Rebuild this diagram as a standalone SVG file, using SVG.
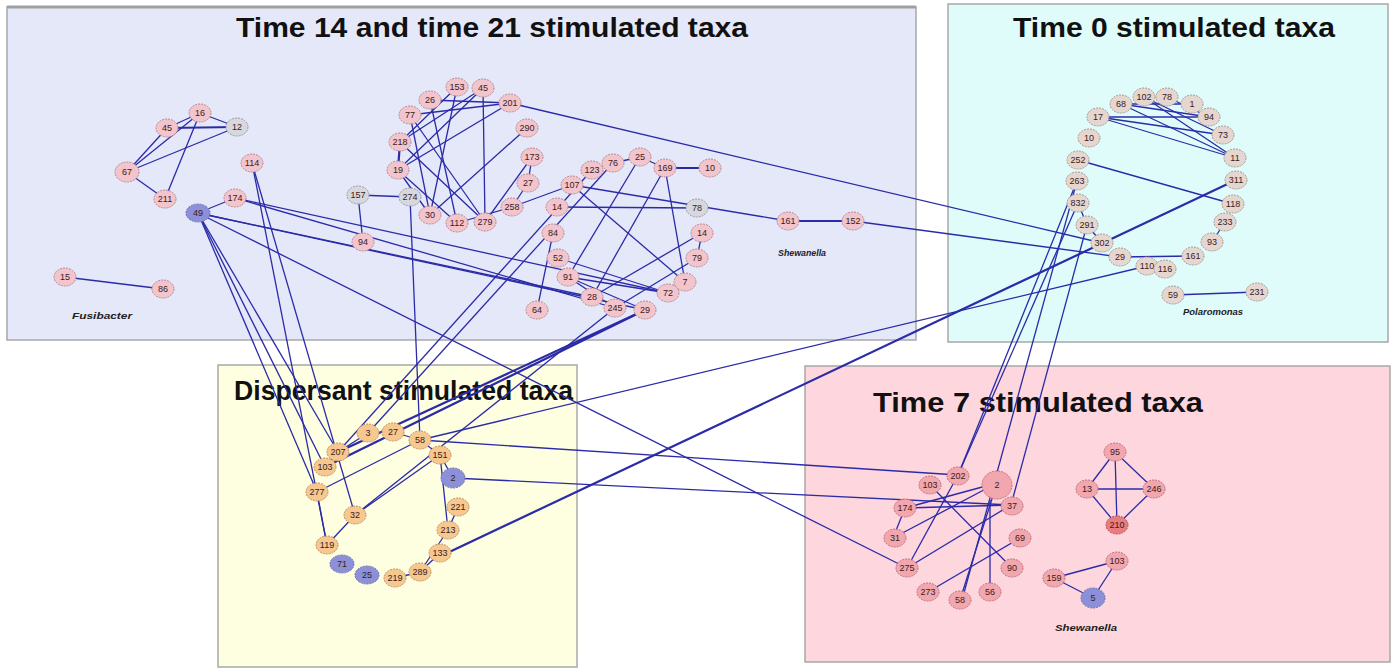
<svg xmlns="http://www.w3.org/2000/svg" width="1392" height="670" viewBox="0 0 1392 670">
<defs>
<style>
.panel{stroke:#a8a8a8;stroke-width:1.5}
.title{font-family:"Liberation Sans",Arial,sans-serif;font-weight:bold;font-size:28px;fill:#111}
.gen{font-family:"Liberation Sans",Arial,sans-serif;font-weight:bold;font-style:italic;font-size:9px;fill:#222}
#edges line{stroke:#2b2ba8;stroke-width:1.3;fill:none}
#edges .thick{stroke-width:2.2}
.n ellipse{stroke-width:1;stroke-dasharray:2 1}
.n text{font-family:"Liberation Sans",Arial,sans-serif;font-size:9px;fill:#3a2020;text-anchor:middle}
.pa ellipse{fill:#f2c4cc;stroke:#b88890}
.bl ellipse{fill:#8c90d8;stroke:#6a6eb8}
.gr ellipse{fill:#d6d8de;stroke:#9a9aa4}
.pz ellipse{fill:#e6d6d0;stroke:#a89890}
.pd ellipse{fill:#f6c890;stroke:#c09060}
.ps ellipse{fill:#f2a6ae;stroke:#c07078}
.rd ellipse{fill:#e87c80;stroke:#b05058}
</style>
</defs>
<rect width="1392" height="670" fill="#ffffff"/>
<g id="panels">
<rect class="panel" x="7" y="7" width="909" height="333" fill="#e5e8f9"/>
<line x1="7" y1="7" x2="916" y2="7" stroke="#a0a0a0" stroke-width="3"/>
<rect class="panel" x="948" y="4" width="440" height="338" fill="#dffcfb"/>
<rect class="panel" x="218" y="365" width="359" height="302" fill="#fefee0"/>
<rect class="panel" x="805" y="366" width="585" height="296" fill="#fdd6de"/>
</g>
<g id="titles">
<text class="title" x="236" y="37" textLength="512" lengthAdjust="spacingAndGlyphs">Time 14 and time 21 stimulated taxa</text>
<text class="title" x="1013" y="37" textLength="322" lengthAdjust="spacingAndGlyphs">Time 0 stimulated taxa</text>
<text class="title" x="234" y="400" textLength="339" lengthAdjust="spacingAndGlyphs">Dispersant stimulated taxa</text>
<text class="title" x="873" y="412" textLength="330" lengthAdjust="spacingAndGlyphs">Time 7 stimulated taxa</text>
<text class="gen" x="72" y="319" textLength="60" lengthAdjust="spacingAndGlyphs">Fusibacter</text>
<text class="gen" x="778" y="256" textLength="48" lengthAdjust="spacingAndGlyphs">Shewanella</text>
<text class="gen" x="1183" y="315" textLength="60" lengthAdjust="spacingAndGlyphs">Polaromonas</text>
<text class="gen" x="1055" y="631" textLength="62" lengthAdjust="spacingAndGlyphs">Shewanella</text>
</g>
<g id="edges">
<line x1="167" y1="128" x2="200" y2="113"/>
<line x1="167" y1="128" x2="237" y2="127" class="thick"/>
<line x1="200" y1="113" x2="237" y2="127"/>
<line x1="127" y1="172" x2="167" y2="128"/>
<line x1="127" y1="172" x2="200" y2="113"/>
<line x1="127" y1="172" x2="237" y2="127"/>
<line x1="127" y1="172" x2="165" y2="199"/>
<line x1="200" y1="113" x2="165" y2="199"/>
<line x1="235" y1="198" x2="198" y2="213"/>
<line x1="65" y1="277" x2="163" y2="289"/>
<line x1="235" y1="198" x2="615" y2="308"/>
<line x1="235" y1="198" x2="668" y2="293"/>
<line x1="198" y1="213" x2="592" y2="297"/>
<line x1="198" y1="213" x2="645" y2="310"/>
<line x1="198" y1="213" x2="907" y2="568"/>
<line x1="198" y1="213" x2="325" y2="467"/>
<line x1="198" y1="213" x2="317" y2="492"/>
<line x1="198" y1="213" x2="338" y2="452"/>
<line x1="252" y1="163" x2="355" y2="515"/>
<line x1="252" y1="163" x2="327" y2="545"/>
<line x1="358" y1="195" x2="410" y2="197"/>
<line x1="358" y1="195" x2="363" y2="242"/>
<line x1="410" y1="197" x2="420" y2="440"/>
<line x1="430" y1="100" x2="510" y2="103"/>
<line x1="410" y1="115" x2="510" y2="103"/>
<line x1="457" y1="87" x2="400" y2="142"/>
<line x1="483" y1="88" x2="400" y2="142"/>
<line x1="483" y1="88" x2="398" y2="170"/>
<line x1="510" y1="103" x2="398" y2="170"/>
<line x1="527" y1="128" x2="430" y2="215"/>
<line x1="430" y1="100" x2="457" y2="223"/>
<line x1="410" y1="115" x2="485" y2="222"/>
<line x1="400" y1="142" x2="485" y2="222"/>
<line x1="398" y1="170" x2="457" y2="223"/>
<line x1="398" y1="170" x2="430" y2="215"/>
<line x1="483" y1="88" x2="485" y2="222"/>
<line x1="457" y1="87" x2="430" y2="215"/>
<line x1="400" y1="142" x2="398" y2="170" class="thick"/>
<line x1="410" y1="115" x2="430" y2="215"/>
<line x1="532" y1="157" x2="485" y2="222"/>
<line x1="528" y1="183" x2="512" y2="207"/>
<line x1="532" y1="157" x2="528" y2="183"/>
<line x1="512" y1="207" x2="457" y2="223"/>
<line x1="510" y1="103" x2="1102" y2="243"/>
<line x1="665" y1="168" x2="710" y2="168" class="thick"/>
<line x1="640" y1="157" x2="665" y2="168"/>
<line x1="613" y1="163" x2="640" y2="157"/>
<line x1="665" y1="168" x2="685" y2="282"/>
<line x1="665" y1="168" x2="592" y2="297"/>
<line x1="640" y1="157" x2="568" y2="277"/>
<line x1="572" y1="185" x2="685" y2="282"/>
<line x1="572" y1="185" x2="512" y2="207"/>
<line x1="557" y1="207" x2="697" y2="208"/>
<line x1="553" y1="233" x2="537" y2="310"/>
<line x1="558" y1="258" x2="668" y2="293"/>
<line x1="568" y1="277" x2="615" y2="308"/>
<line x1="568" y1="277" x2="645" y2="310"/>
<line x1="568" y1="277" x2="668" y2="293"/>
<line x1="702" y1="233" x2="592" y2="297"/>
<line x1="697" y1="258" x2="615" y2="308"/>
<line x1="702" y1="233" x2="697" y2="258"/>
<line x1="592" y1="170" x2="338" y2="452"/>
<line x1="613" y1="163" x2="368" y2="433"/>
<line x1="645" y1="310" x2="338" y2="452" class="thick"/>
<line x1="645" y1="310" x2="325" y2="467" class="thick"/>
<line x1="615" y1="308" x2="355" y2="515"/>
<line x1="572" y1="185" x2="788" y2="221"/>
<line x1="788" y1="221" x2="853" y2="221" class="thick"/>
<line x1="853" y1="221" x2="1120" y2="257"/>
<line x1="1098" y1="117" x2="1235" y2="158"/>
<line x1="1098" y1="117" x2="1223" y2="135"/>
<line x1="1098" y1="117" x2="1209" y2="117"/>
<line x1="1121" y1="104" x2="1235" y2="158"/>
<line x1="1121" y1="104" x2="1209" y2="117"/>
<line x1="1144" y1="97" x2="1223" y2="135"/>
<line x1="1144" y1="97" x2="1235" y2="158"/>
<line x1="1167" y1="97" x2="1209" y2="117"/>
<line x1="1121" y1="104" x2="1192" y2="104"/>
<line x1="1078" y1="160" x2="1233" y2="204"/>
<line x1="1078" y1="203" x2="1087" y2="225"/>
<line x1="1087" y1="225" x2="1102" y2="243"/>
<line x1="1120" y1="257" x2="1193" y2="256"/>
<line x1="1147" y1="266" x2="1165" y2="269"/>
<line x1="1212" y1="242" x2="1225" y2="222"/>
<line x1="1173" y1="295" x2="1257" y2="292"/>
<line x1="1236" y1="180" x2="443" y2="555" class="thick"/>
<line x1="1147" y1="266" x2="420" y2="440"/>
<line x1="1077" y1="181" x2="962" y2="600"/>
<line x1="1078" y1="203" x2="958" y2="475"/>
<line x1="1077" y1="181" x2="958" y2="475"/>
<line x1="1087" y1="225" x2="1011" y2="505"/>
<line x1="317" y1="492" x2="327" y2="545"/>
<line x1="327" y1="545" x2="355" y2="515"/>
<line x1="355" y1="515" x2="440" y2="455"/>
<line x1="317" y1="492" x2="420" y2="440"/>
<line x1="338" y1="452" x2="325" y2="467"/>
<line x1="338" y1="452" x2="368" y2="433"/>
<line x1="393" y1="432" x2="420" y2="440"/>
<line x1="420" y1="440" x2="440" y2="455"/>
<line x1="440" y1="455" x2="453" y2="478"/>
<line x1="440" y1="455" x2="448" y2="530"/>
<line x1="458" y1="507" x2="448" y2="530"/>
<line x1="448" y1="530" x2="420" y2="572"/>
<line x1="440" y1="553" x2="420" y2="572"/>
<line x1="420" y1="572" x2="395" y2="578"/>
<line x1="420" y1="440" x2="958" y2="475"/>
<line x1="453" y1="478" x2="1011" y2="505"/>
<line x1="905" y1="508" x2="1011" y2="505"/>
<line x1="905" y1="508" x2="893" y2="538"/>
<line x1="997" y1="483" x2="893" y2="538"/>
<line x1="997" y1="483" x2="905" y2="508"/>
<line x1="930" y1="485" x2="1012" y2="568"/>
<line x1="958" y1="475" x2="907" y2="568"/>
<line x1="1011" y1="505" x2="907" y2="568"/>
<line x1="1020" y1="538" x2="928" y2="592"/>
<line x1="997" y1="483" x2="960" y2="600"/>
<line x1="990" y1="592" x2="990" y2="500"/>
<line x1="1115" y1="452" x2="1087" y2="489"/>
<line x1="1115" y1="452" x2="1154" y2="489"/>
<line x1="1115" y1="452" x2="1117" y2="525"/>
<line x1="1087" y1="489" x2="1154" y2="489"/>
<line x1="1087" y1="489" x2="1117" y2="525"/>
<line x1="1154" y1="489" x2="1117" y2="525"/>
<line x1="1117" y1="561" x2="1054" y2="578"/>
<line x1="1117" y1="561" x2="1093" y2="598"/>
<line x1="1054" y1="578" x2="1093" y2="598"/>
</g>
<g id="nodes">
<g id="a16" class="n pa"><ellipse cx="200" cy="113" rx="11" ry="9"/><text x="200" y="116">16</text></g>
<g id="a45" class="n pa"><ellipse cx="167" cy="128" rx="11" ry="9"/><text x="167" y="131">45</text></g>
<g id="a12" class="n gr"><ellipse cx="237" cy="127" rx="11" ry="9"/><text x="237" y="130">12</text></g>
<g id="a67" class="n pa"><ellipse cx="127" cy="172" rx="12" ry="10"/><text x="127" y="175">67</text></g>
<g id="a211" class="n pa"><ellipse cx="165" cy="199" rx="11" ry="9"/><text x="165" y="202">211</text></g>
<g id="a114" class="n pa"><ellipse cx="252" cy="163" rx="11" ry="9"/><text x="252" y="166">114</text></g>
<g id="a174" class="n pa"><ellipse cx="235" cy="198" rx="11" ry="9"/><text x="235" y="201">174</text></g>
<g id="a49" class="n bl"><ellipse cx="198" cy="213" rx="12" ry="9"/><text x="198" y="216">49</text></g>
<g id="a15" class="n pa"><ellipse cx="65" cy="277" rx="11" ry="9"/><text x="65" y="280">15</text></g>
<g id="a86" class="n pa"><ellipse cx="163" cy="289" rx="11" ry="9"/><text x="163" y="292">86</text></g>
<g id="a26" class="n pa"><ellipse cx="430" cy="100" rx="11" ry="9"/><text x="430" y="103">26</text></g>
<g id="a77" class="n pa"><ellipse cx="410" cy="115" rx="11" ry="9"/><text x="410" y="118">77</text></g>
<g id="a153" class="n pa"><ellipse cx="457" cy="87" rx="11" ry="9"/><text x="457" y="90">153</text></g>
<g id="a45b" class="n pa"><ellipse cx="483" cy="88" rx="11" ry="9"/><text x="483" y="91">45</text></g>
<g id="a201" class="n pa"><ellipse cx="510" cy="103" rx="11" ry="9"/><text x="510" y="106">201</text></g>
<g id="a290" class="n pa"><ellipse cx="527" cy="128" rx="11" ry="9"/><text x="527" y="131">290</text></g>
<g id="a218" class="n pa"><ellipse cx="400" cy="142" rx="11" ry="9"/><text x="400" y="145">218</text></g>
<g id="a19" class="n pa"><ellipse cx="398" cy="170" rx="11" ry="9"/><text x="398" y="173">19</text></g>
<g id="a157" class="n gr"><ellipse cx="358" cy="195" rx="11" ry="9"/><text x="358" y="198">157</text></g>
<g id="a274" class="n gr"><ellipse cx="410" cy="197" rx="11" ry="9"/><text x="410" y="200">274</text></g>
<g id="a30" class="n pa"><ellipse cx="430" cy="215" rx="11" ry="9"/><text x="430" y="218">30</text></g>
<g id="a112" class="n pa"><ellipse cx="457" cy="223" rx="11" ry="9"/><text x="457" y="226">112</text></g>
<g id="a279" class="n pa"><ellipse cx="485" cy="222" rx="11" ry="9"/><text x="485" y="225">279</text></g>
<g id="a258" class="n pa"><ellipse cx="512" cy="207" rx="11" ry="9"/><text x="512" y="210">258</text></g>
<g id="a173" class="n pa"><ellipse cx="532" cy="157" rx="11" ry="9"/><text x="532" y="160">173</text></g>
<g id="a27" class="n pa"><ellipse cx="528" cy="183" rx="11" ry="9"/><text x="528" y="186">27</text></g>
<g id="a94" class="n pa"><ellipse cx="363" cy="242" rx="11" ry="9"/><text x="363" y="245">94</text></g>
<g id="a123" class="n pa"><ellipse cx="592" cy="170" rx="11" ry="9"/><text x="592" y="173">123</text></g>
<g id="a76" class="n pa"><ellipse cx="613" cy="163" rx="11" ry="9"/><text x="613" y="166">76</text></g>
<g id="a25" class="n pa"><ellipse cx="640" cy="157" rx="11" ry="9"/><text x="640" y="160">25</text></g>
<g id="a169" class="n pa"><ellipse cx="665" cy="168" rx="11" ry="9"/><text x="665" y="171">169</text></g>
<g id="a10" class="n pa"><ellipse cx="710" cy="168" rx="11" ry="9"/><text x="710" y="171">10</text></g>
<g id="a107" class="n pa"><ellipse cx="572" cy="185" rx="11" ry="9"/><text x="572" y="188">107</text></g>
<g id="a14" class="n pa"><ellipse cx="557" cy="207" rx="11" ry="9"/><text x="557" y="210">14</text></g>
<g id="a78" class="n gr"><ellipse cx="697" cy="208" rx="11" ry="9"/><text x="697" y="211">78</text></g>
<g id="a84" class="n pa"><ellipse cx="553" cy="233" rx="11" ry="9"/><text x="553" y="236">84</text></g>
<g id="a14b" class="n pa"><ellipse cx="702" cy="233" rx="11" ry="9"/><text x="702" y="236">14</text></g>
<g id="a52" class="n pa"><ellipse cx="558" cy="258" rx="11" ry="9"/><text x="558" y="261">52</text></g>
<g id="a79" class="n pa"><ellipse cx="697" cy="258" rx="11" ry="9"/><text x="697" y="261">79</text></g>
<g id="a91" class="n pa"><ellipse cx="568" cy="277" rx="11" ry="9"/><text x="568" y="280">91</text></g>
<g id="a7" class="n pa"><ellipse cx="685" cy="282" rx="11" ry="9"/><text x="685" y="285">7</text></g>
<g id="a28" class="n pa"><ellipse cx="592" cy="297" rx="11" ry="9"/><text x="592" y="300">28</text></g>
<g id="a72" class="n pa"><ellipse cx="668" cy="293" rx="11" ry="9"/><text x="668" y="296">72</text></g>
<g id="a245" class="n pa"><ellipse cx="615" cy="308" rx="11" ry="9"/><text x="615" y="311">245</text></g>
<g id="a29" class="n pa"><ellipse cx="645" cy="310" rx="11" ry="9"/><text x="645" y="313">29</text></g>
<g id="a64" class="n pa"><ellipse cx="537" cy="310" rx="11" ry="9"/><text x="537" y="313">64</text></g>
<g id="a161" class="n pa"><ellipse cx="788" cy="221" rx="11" ry="9"/><text x="788" y="224">161</text></g>
<g id="a152" class="n pa"><ellipse cx="853" cy="221" rx="11" ry="9"/><text x="853" y="224">152</text></g>
<g id="z17" class="n pz"><ellipse cx="1098" cy="117" rx="11" ry="9"/><text x="1098" y="120">17</text></g>
<g id="z68" class="n pz"><ellipse cx="1121" cy="104" rx="11" ry="9"/><text x="1121" y="107">68</text></g>
<g id="z102" class="n pz"><ellipse cx="1144" cy="97" rx="11" ry="9"/><text x="1144" y="100">102</text></g>
<g id="z78" class="n pz"><ellipse cx="1167" cy="97" rx="11" ry="9"/><text x="1167" y="100">78</text></g>
<g id="z1" class="n pz"><ellipse cx="1192" cy="104" rx="11" ry="9"/><text x="1192" y="107">1</text></g>
<g id="z94" class="n pz"><ellipse cx="1209" cy="117" rx="11" ry="9"/><text x="1209" y="120">94</text></g>
<g id="z73" class="n pz"><ellipse cx="1223" cy="135" rx="11" ry="9"/><text x="1223" y="138">73</text></g>
<g id="z11" class="n pz"><ellipse cx="1235" cy="158" rx="11" ry="9"/><text x="1235" y="161">11</text></g>
<g id="z10" class="n pz"><ellipse cx="1089" cy="138" rx="11" ry="9"/><text x="1089" y="141">10</text></g>
<g id="z252" class="n pz"><ellipse cx="1078" cy="160" rx="11" ry="9"/><text x="1078" y="163">252</text></g>
<g id="z263" class="n pz"><ellipse cx="1077" cy="181" rx="11" ry="9"/><text x="1077" y="184">263</text></g>
<g id="z832" class="n pz"><ellipse cx="1078" cy="203" rx="11" ry="9"/><text x="1078" y="206">832</text></g>
<g id="z291" class="n pz"><ellipse cx="1087" cy="225" rx="11" ry="9"/><text x="1087" y="228">291</text></g>
<g id="z302" class="n pz"><ellipse cx="1102" cy="243" rx="11" ry="9"/><text x="1102" y="246">302</text></g>
<g id="z29" class="n pz"><ellipse cx="1120" cy="257" rx="11" ry="9"/><text x="1120" y="260">29</text></g>
<g id="z110" class="n pz"><ellipse cx="1147" cy="266" rx="11" ry="9"/><text x="1147" y="269">110</text></g>
<g id="z116" class="n pz"><ellipse cx="1165" cy="269" rx="11" ry="9"/><text x="1165" y="272">116</text></g>
<g id="z161" class="n pz"><ellipse cx="1193" cy="256" rx="11" ry="9"/><text x="1193" y="259">161</text></g>
<g id="z93" class="n pz"><ellipse cx="1212" cy="242" rx="11" ry="9"/><text x="1212" y="245">93</text></g>
<g id="z233" class="n pz"><ellipse cx="1225" cy="222" rx="11" ry="9"/><text x="1225" y="225">233</text></g>
<g id="z118" class="n pz"><ellipse cx="1233" cy="204" rx="11" ry="9"/><text x="1233" y="207">118</text></g>
<g id="z311" class="n pz"><ellipse cx="1236" cy="180" rx="11" ry="9"/><text x="1236" y="183">311</text></g>
<g id="z59" class="n pz"><ellipse cx="1173" cy="295" rx="11" ry="9"/><text x="1173" y="298">59</text></g>
<g id="z231" class="n pz"><ellipse cx="1257" cy="292" rx="11" ry="9"/><text x="1257" y="295">231</text></g>
<g id="d3" class="n pd"><ellipse cx="368" cy="433" rx="11" ry="9"/><text x="368" y="436">3</text></g>
<g id="d27" class="n pd"><ellipse cx="393" cy="432" rx="11" ry="9"/><text x="393" y="435">27</text></g>
<g id="d58" class="n pd"><ellipse cx="420" cy="440" rx="11" ry="9"/><text x="420" y="443">58</text></g>
<g id="d207" class="n pd"><ellipse cx="338" cy="452" rx="11" ry="9"/><text x="338" y="455">207</text></g>
<g id="d103" class="n pd"><ellipse cx="325" cy="467" rx="11" ry="9"/><text x="325" y="470">103</text></g>
<g id="d151" class="n pd"><ellipse cx="440" cy="455" rx="11" ry="9"/><text x="440" y="458">151</text></g>
<g id="d2" class="n bl"><ellipse cx="453" cy="478" rx="12" ry="10"/><text x="453" y="481">2</text></g>
<g id="d277" class="n pd"><ellipse cx="317" cy="492" rx="11" ry="9"/><text x="317" y="495">277</text></g>
<g id="d32" class="n pd"><ellipse cx="355" cy="515" rx="11" ry="9"/><text x="355" y="518">32</text></g>
<g id="d221" class="n pd"><ellipse cx="458" cy="507" rx="11" ry="9"/><text x="458" y="510">221</text></g>
<g id="d213" class="n pd"><ellipse cx="448" cy="530" rx="11" ry="9"/><text x="448" y="533">213</text></g>
<g id="d119" class="n pd"><ellipse cx="327" cy="545" rx="11" ry="9"/><text x="327" y="548">119</text></g>
<g id="d133" class="n pd"><ellipse cx="440" cy="553" rx="11" ry="9"/><text x="440" y="556">133</text></g>
<g id="d71" class="n bl"><ellipse cx="342" cy="564" rx="12" ry="9"/><text x="342" y="567">71</text></g>
<g id="d25" class="n bl"><ellipse cx="367" cy="575" rx="12" ry="9"/><text x="367" y="578">25</text></g>
<g id="d219" class="n pd"><ellipse cx="395" cy="578" rx="11" ry="9"/><text x="395" y="581">219</text></g>
<g id="d289" class="n pd"><ellipse cx="420" cy="572" rx="11" ry="9"/><text x="420" y="575">289</text></g>
<g id="s202" class="n ps"><ellipse cx="958" cy="476" rx="11" ry="9"/><text x="958" y="479">202</text></g>
<g id="s103" class="n ps"><ellipse cx="930" cy="485" rx="11" ry="9"/><text x="930" y="488">103</text></g>
<g id="s2" class="n ps"><ellipse cx="997" cy="485" rx="15" ry="14"/><text x="997" y="488">2</text></g>
<g id="s174" class="n ps"><ellipse cx="905" cy="508" rx="11" ry="9"/><text x="905" y="511">174</text></g>
<g id="s37" class="n ps"><ellipse cx="1012" cy="506" rx="11" ry="9"/><text x="1012" y="509">37</text></g>
<g id="s31" class="n ps"><ellipse cx="895" cy="538" rx="11" ry="9"/><text x="895" y="541">31</text></g>
<g id="s69" class="n ps"><ellipse cx="1020" cy="538" rx="11" ry="9"/><text x="1020" y="541">69</text></g>
<g id="s275" class="n ps"><ellipse cx="907" cy="568" rx="11" ry="9"/><text x="907" y="571">275</text></g>
<g id="s90" class="n ps"><ellipse cx="1012" cy="568" rx="11" ry="9"/><text x="1012" y="571">90</text></g>
<g id="s273" class="n ps"><ellipse cx="928" cy="592" rx="11" ry="9"/><text x="928" y="595">273</text></g>
<g id="s58" class="n ps"><ellipse cx="960" cy="600" rx="11" ry="9"/><text x="960" y="603">58</text></g>
<g id="s56" class="n ps"><ellipse cx="990" cy="592" rx="11" ry="9"/><text x="990" y="595">56</text></g>
<g id="s95" class="n ps"><ellipse cx="1115" cy="452" rx="11" ry="9"/><text x="1115" y="455">95</text></g>
<g id="s13" class="n ps"><ellipse cx="1087" cy="489" rx="11" ry="9"/><text x="1087" y="492">13</text></g>
<g id="s246" class="n ps"><ellipse cx="1154" cy="489" rx="11" ry="9"/><text x="1154" y="492">246</text></g>
<g id="s210" class="n rd"><ellipse cx="1117" cy="525" rx="11" ry="9"/><text x="1117" y="528">210</text></g>
<g id="s103b" class="n ps"><ellipse cx="1117" cy="561" rx="11" ry="9"/><text x="1117" y="564">103</text></g>
<g id="s159" class="n ps"><ellipse cx="1054" cy="578" rx="11" ry="9"/><text x="1054" y="581">159</text></g>
<g id="s5" class="n bl"><ellipse cx="1093" cy="598" rx="12" ry="10"/><text x="1093" y="601">5</text></g>
</g>
</svg>
